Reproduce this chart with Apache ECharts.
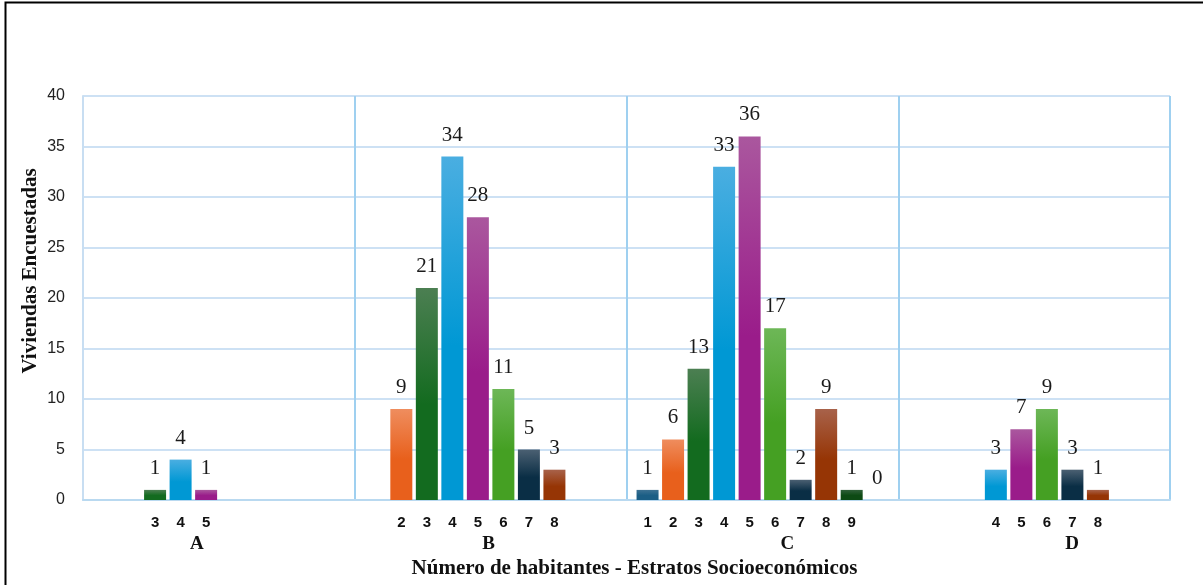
<!DOCTYPE html>
<html>
<head>
<meta charset="utf-8">
<script src="https://cdn.jsdelivr.net/npm/echarts@6/dist/echarts.min.js"></script>
<style>
  html, body { margin: 0; padding: 0; background: #fff; }
  #chart { width: 1203px; height: 585px; }
</style>
</head>
<body>
<div id="chart"></div>
<script>
// Estratos socioeconómicos (categorías del eje X)
const estratos = ['A', 'B', 'C', 'D'];
// Número de habitantes por vivienda (una serie por cada valor)
const habitantes = ['1', '2', '3', '4', '5', '6', '7', '8', '9', '10'];

// Viviendas encuestadas por estrato, indexadas por número de habitantes (1..10)
const estratoA = [null, null, 1, 4, 1, null, null, null, null, null];
const estratoB = [null, 9, 21, 34, 28, 11, 5, 3, null, null];
const estratoC = [1, 6, 13, 33, 36, 17, 2, 9, 1, 0];
const estratoD = [null, null, null, 3, 7, 9, 3, 1, null, null];

// Etiquetas de habitantes que aparecen bajo cada estrato
const etiquetasA = ['3', '4', '5'];
const etiquetasB = ['2', '3', '4', '5', '6', '7', '8'];
const etiquetasC = ['1', '2', '3', '4', '5', '6', '7', '8', '9'];
const etiquetasD = ['4', '5', '6', '7', '8'];

// Ticks del eje Y
const ticksY = [0, 5, 10, 15, 20, 25, 30, 35, 40];

// Colores (parte superior clara -> parte inferior intensa) por número de habitantes
const coloresArriba = ['#3d7293', '#ef8d5e', '#4c7f52', '#4aaee1', '#aa579e', '#6db757', '#4b6072', '#a8624a', '#30603a', '#888888'];
const coloresAbajo  = ['#1b5e85', '#e8601c', '#136b1f', '#0098d4', '#9a1c8a', '#45a023', '#0a2e45', '#963505', '#0d4a14', '#666666'];

const porEstrato = [estratoA, estratoB, estratoC, estratoD];
const etiquetasPorEstrato = [etiquetasA, etiquetasB, etiquetasC, etiquetasD];

const serif = '"Liberation Serif", "Times New Roman", serif';
const sans = '"Liberation Sans", Arial, sans-serif';

function degradado(i) {
  return {
    type: 'linear', x: 0, y: 0, x2: 0, y2: 1,
    colorStops: [
      { offset: 0, color: coloresArriba[i] },
      { offset: 0.55, color: coloresAbajo[i] },
      { offset: 1, color: coloresAbajo[i] }
    ]
  };
}

const series = [];
habitantes.forEach(function (h, i) {
  const valores = porEstrato.map(function (arr) { return arr[i]; });
  // Barra de altura cero que lleva la etiqueta del número de habitantes bajo el eje
  series.push({
    name: 'etiqueta ' + h,
    type: 'bar',
    stack: 'h' + h,
    barGap: '16%',
    barCategoryGap: '7.4%',
    silent: true,
    data: valores.map(function (v, k) {
      return (v !== null && etiquetasPorEstrato[k].indexOf(h) >= 0) ? 0 : null;
    }),
    itemStyle: { color: 'transparent' },
    label: {
      show: true,
      position: 'bottom',
      distance: 15,
      formatter: h,
      fontFamily: sans,
      fontWeight: 'bold',
      fontSize: 15,
      color: '#111'
    }
  });
  // Barra con las viviendas encuestadas
  series.push({
    name: h,
    type: 'bar',
    stack: 'h' + h,
    barGap: '16%',
    barCategoryGap: '7.4%',
    data: valores,
    itemStyle: { color: degradado(i) },
    label: {
      show: true,
      position: 'top',
      distance: 11,
      fontFamily: serif,
      fontSize: 21,
      color: '#1a1a1a'
    }
  });
});

// Desplazamiento horizontal de las letras de estrato bajo cada grupo
const desplazamientoEstrato = { A: -22, B: -2, C: 25, D: 38 };
const rich = {};
estratos.forEach(function (e) {
  const d = desplazamientoEstrato[e];
  rich['e' + e] = {
    fontFamily: serif, fontWeight: 'bold', fontSize: 19, color: '#111',
    padding: d < 0 ? [0, -2 * d, 0, 0] : [0, 0, 0, 2 * d]
  };
});

const chart = echarts.init(document.getElementById('chart'), null, { renderer: 'canvas' });
chart.setOption({
  animation: false,
  backgroundColor: '#ffffff',
  grid: { left: 83, right: 33, top: 96, bottom: 85, containLabel: false },
  xAxis: {
    type: 'category',
    data: estratos,
    boundaryGap: true,
    axisLine: { show: true, lineStyle: { color: '#b9d9f0', width: 2 } },
    axisTick: { show: false },
    splitLine: { show: true, lineStyle: { color: '#9fd0f0', width: 2 } },
    axisLabel: {
      margin: 35,
      formatter: function (v) { return '{e' + v + '|' + v + '}'; },
      rich: rich
    },
    name: 'Número de habitantes - Estratos Socioeconómicos',
    nameLocation: 'middle',
    nameGap: 58,
    nameMoveOverlap: false,
    nameTextStyle: {
      fontFamily: serif, fontWeight: 'bold', fontSize: 21, color: '#111',
      padding: [0, 0, 0, 16]
    }
  },
  yAxis: {
    type: 'value',
    min: ticksY[0],
    max: ticksY[ticksY.length - 1],
    interval: ticksY[1] - ticksY[0],
    axisLine: { show: true, lineStyle: { color: '#c8def2', width: 2 } },
    axisTick: { show: false },
    splitLine: { show: true, lineStyle: { color: '#cde1f4', width: 2 } },
    axisLabel: {
      margin: 18,
      fontFamily: sans,
      fontSize: 16,
      color: '#222'
    },
    name: 'Viviendas Encuestadas',
    nameLocation: 'middle',
    nameGap: 42,
    nameMoveOverlap: false,
    nameTextStyle: {
      fontFamily: serif, fontWeight: 'bold', fontSize: 21, color: '#111',
      padding: [0, 0, 0, 54]
    }
  },
  graphic: [{
    type: 'rect',
    silent: true,
    z: 100,
    shape: { x: 5.5, y: 2.5, width: 1250, height: 640 },
    style: { fill: 'none', stroke: '#000', lineWidth: 2 }
  }],
  series: series
});
</script>
</body>
</html>
